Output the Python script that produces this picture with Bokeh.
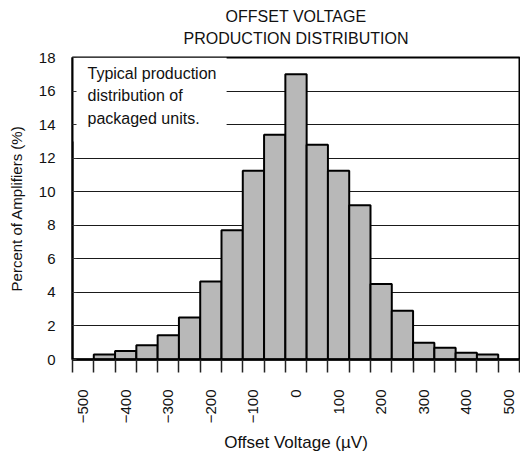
import math
from bokeh.plotting import figure
from bokeh.models import Range1d, FixedTicker, Label, BoxAnnotation, LinearAxis
from bokeh.embed import file_html
from bokeh.resources import INLINE

# ---- data ----
BIN_CENTERS = [-450, -400, -350, -300, -250, -200, -150, -100, -50, 0,
               50, 100, 150, 200, 250, 300, 350, 400, 450]
PERCENT = [0.3, 0.5, 0.85, 1.45, 2.5, 4.65, 7.7, 11.25, 13.4, 17.0,
           12.8, 11.25, 9.2, 4.5, 2.9, 1.0, 0.7, 0.4, 0.3]
BIN_WIDTH = 50
X_TICKS = [-500, -400, -300, -200, -100, 0, 100, 200, 300, 400, 500]
X_TICK_LABELS = ["\u2212500", "\u2212400", "\u2212300", "\u2212200", "\u2212100",
                 "0", "100", "200", "300", "400", "500"]
Y_TICKS = [0, 2, 4, 6, 8, 10, 12, 14, 16, 18]
TITLE_LINES = ["OFFSET VOLTAGE", "PRODUCTION DISTRIBUTION"]

FONT = "Liberation Sans"

W, H = 520, 455
BORDER_LEFT, BORDER_RIGHT = 72, 1
BORDER_TOP, BORDER_BOTTOM = 57, 94
FRAME_W = W - BORDER_LEFT - BORDER_RIGHT
FRAME_H = H - BORDER_TOP - BORDER_BOTTOM

x_lo = X_TICKS[0] - BIN_WIDTH / 2
x_hi = X_TICKS[-1] + BIN_WIDTH / 2
bin_edges = [x_lo + BIN_WIDTH * k for k in range(int(round((x_hi - x_lo) / BIN_WIDTH)) + 1)]

p = figure(width=W, height=H,
           x_range=Range1d(x_lo, x_hi), y_range=Range1d(Y_TICKS[0], Y_TICKS[-1]),
           output_backend="svg", toolbar_location=None,
           min_border_left=BORDER_LEFT, min_border_right=BORDER_RIGHT,
           min_border_top=BORDER_TOP, min_border_bottom=BORDER_BOTTOM)

p.background_fill_color = "white"
p.border_fill_color = "white"
p.outline_line_color = "black"
p.outline_line_width = 2

# the bottom and left axes created by figure()
xa = p.below[0]
ya = p.left[0]

# title, first line
p.title.text = TITLE_LINES[0]
p.title.align = "center"
p.title.text_font = FONT
p.title.text_font_size = "16px"
p.title.text_font_style = "normal"
p.title.text_color = "#111111"
p.title.standoff = 3

# grid
p.xgrid.visible = False
p.ygrid.ticker = FixedTicker(ticks=Y_TICKS)
p.ygrid.grid_line_color = "#1a1a1a"
p.ygrid.grid_line_width = 1

# white area behind the note (hides grid lines there)
p.add_layout(BoxAnnotation(right=-163, bottom=13, fill_color="white", fill_alpha=1.0,
                           line_color=None, level="underlay"))

# bars
p.vbar(x=BIN_CENTERS, top=PERCENT, width=BIN_WIDTH, bottom=0,
       fill_color="#b8b8b8", line_color="black", line_width=2)

# x axis (bottom)
xa.ticker = FixedTicker(ticks=X_TICKS, minor_ticks=bin_edges)
xa.major_label_overrides = dict(zip(X_TICKS, X_TICK_LABELS))
xa.major_label_orientation = math.pi / 2
xa.major_tick_out = 0
xa.major_tick_in = 0
xa.minor_tick_out = 13
xa.minor_tick_in = 0
xa.minor_tick_line_color = "#222222"
xa.minor_tick_line_width = 1.5
xa.axis_line_color = "black"
xa.axis_line_width = 2.5
xa.major_label_standoff = 17
xa.major_label_text_font = FONT
xa.major_label_text_font_size = "15px"
xa.major_label_text_color = "#111111"
xa.axis_label = "Offset Voltage (\u00b5V)"
xa.axis_label_text_font = FONT
xa.axis_label_text_font_size = "17px"
xa.axis_label_text_font_style = "normal"
xa.axis_label_text_color = "#111111"
xa.axis_label_standoff = 7

# y axis
ya.ticker = FixedTicker(ticks=Y_TICKS)
ya.major_tick_out = 0
ya.major_tick_in = 4
ya.major_tick_line_color = "#333333"
ya.minor_tick_out = 0
ya.minor_tick_in = 0
ya.axis_line_color = "black"
ya.axis_line_width = 2
ya.major_label_standoff = 17
ya.major_label_text_font = FONT
ya.major_label_text_font_size = "15px"
ya.major_label_text_color = "#111111"
ya.axis_label = "Percent of Amplifiers (%)"
ya.axis_label_text_font = FONT
ya.axis_label_text_font_size = "15px"
ya.axis_label_text_font_style = "normal"
ya.axis_label_text_color = "#111111"
ya.axis_label_standoff = 11

# title, second line: a tick-less axis above the plot whose label is centred over it
top_axis = LinearAxis(ticker=FixedTicker(ticks=[]), axis_label=TITLE_LINES[1],
                      axis_line_color=None, major_tick_out=0, major_tick_in=0,
                      minor_tick_out=0, minor_tick_in=0, major_label_standoff=0,
                      axis_label_standoff=11, axis_label_text_font=FONT,
                      axis_label_text_font_size="16px", axis_label_text_font_style="normal",
                      axis_label_text_color="#111111")
p.add_layout(top_axis, "above")

# note
p.add_layout(Label(x=15, y=FRAME_H - 9, x_units="screen", y_units="screen",
                   text="Typical production\ndistribution of\npackaged units.",
                   text_font=FONT, text_font_size="16px", text_color="#111111",
                   text_align="left", text_baseline="top", text_line_height=1.35))

open("out.html", "w").write(file_html(p, INLINE))
